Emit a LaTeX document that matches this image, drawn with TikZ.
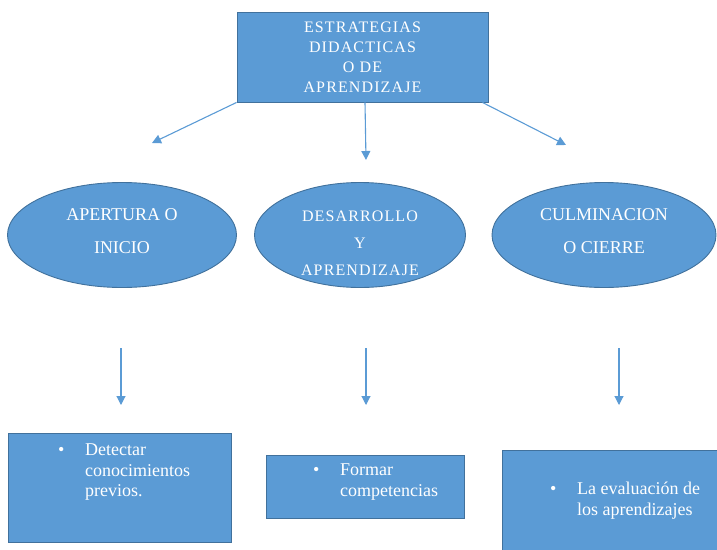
\documentclass[tikz,border=0pt]{standalone}
\usepackage{fontspec}
\setmainfont{Liberation Serif}
\usepackage{xcolor}
\usetikzlibrary{shapes,arrows.meta,calc}
\definecolor{boxblue}{HTML}{5B9BD5}
\definecolor{edgeblue}{HTML}{41719C}
\tikzstyle{shaded}=[fill=boxblue, draw=edgeblue, line width=0.9pt]
\tikzstyle{caja}=[shaded, rectangle, inner sep=0pt]
\tikzstyle{fase}=[shaded, ellipse, inner sep=0pt, text=white, minimum height=105pt]
\tikzstyle{texto}=[inner sep=0pt, text=white, align=left, anchor=north west, font=\fontsize{18}{20.5}\selectfont]
\tikzstyle{flecha}=[draw=boxblue, line width=1.1pt, -{Triangle[width=9pt,length=9pt]}]
\newcommand{\espaciado}{\addfontfeatures{LetterSpace=7}}
\newcommand{\punto}{\makebox[27pt][l]{\textbullet}}
\newcommand{\sangria}{\hspace*{27pt}}
\newcommand{\lineas}[2]{\raisebox{#1}[0pt][0pt]{\begin{tabular}{@{}c@{}}#2\end{tabular}}}

\begin{document}
\begin{tikzpicture}[x=1pt, y=-1pt]
	\useasboundingbox (0,0) rectangle (717,549);
	% caja superior
	\node[caja, minimum width=251pt, minimum height=90pt, text=white, align=center,
		font=\fontsize{16}{20}\selectfont\espaciado] (estrategias) at (362.5,57)
		{ESTRATEGIAS\\DIDACTICAS\\O DE\\APRENDIZAJE};
	% fases
	\node[fase, minimum width=229pt, font=\fontsize{18}{33}\selectfont] (apertura) at (122,235)
		{\lineas{0.6pt}{APERTURA O\\INICIO}};
	\node[fase, minimum width=211pt, font=\fontsize{16}{27}\selectfont\espaciado] (desarrollo) at (360,235)
		{\lineas{-12pt}{DESARROLLO\\Y\\APRENDIZAJE}};
	\node[fase, minimum width=224pt, font=\fontsize{18}{33}\selectfont] (culminacion) at (604,235)
		{\lineas{0.6pt}{CULMINACION\\O CIERRE}};
	% puntas libres de las flechas
	\coordinate (pa) at (152,143);
	\coordinate (pd) at (366,160);
	\coordinate (pc) at (566,145);
	\coordinate (ia) at (121,348);
	\coordinate (fa) at (121,405);
	\coordinate (id) at (366,348);
	\coordinate (fd) at (366,405);
	\coordinate (ic) at (619,348);
	\coordinate (fc) at (619,405);
	\draw[flecha] (estrategias.south west) -- (pa);
	\draw[flecha] ($(estrategias.south)+(2.5,0)$) -- (pd);
	\draw[flecha] ($(estrategias.south east)+(-6,0)$) -- (pc);
	\draw[flecha] (ia) -- (fa);
	\draw[flecha] (id) -- (fd);
	\draw[flecha] (ic) -- (fc);
	% cajas inferiores
	\node[caja, minimum width=223pt, minimum height=109pt] (previos) at (119.5,487.5) {};
	\node[caja, minimum width=198pt, minimum height=63pt] (competencias) at (365,486.5) {};
	\node[caja, minimum width=218pt, minimum height=104pt] (evaluacion) at (611,502) {};
	\node[texto] (tprevios) at (58,444) {\punto Detectar\\\sangria conocimientos\\\sangria previos.};
	\node[texto] (tcompetencias) at (313,464) {\punto Formar\\\sangria competencias};
	\node[texto] (tevaluacion) at (550,482) {\punto La evaluación de\\\sangria los aprendizajes};
\end{tikzpicture}
\end{document}
